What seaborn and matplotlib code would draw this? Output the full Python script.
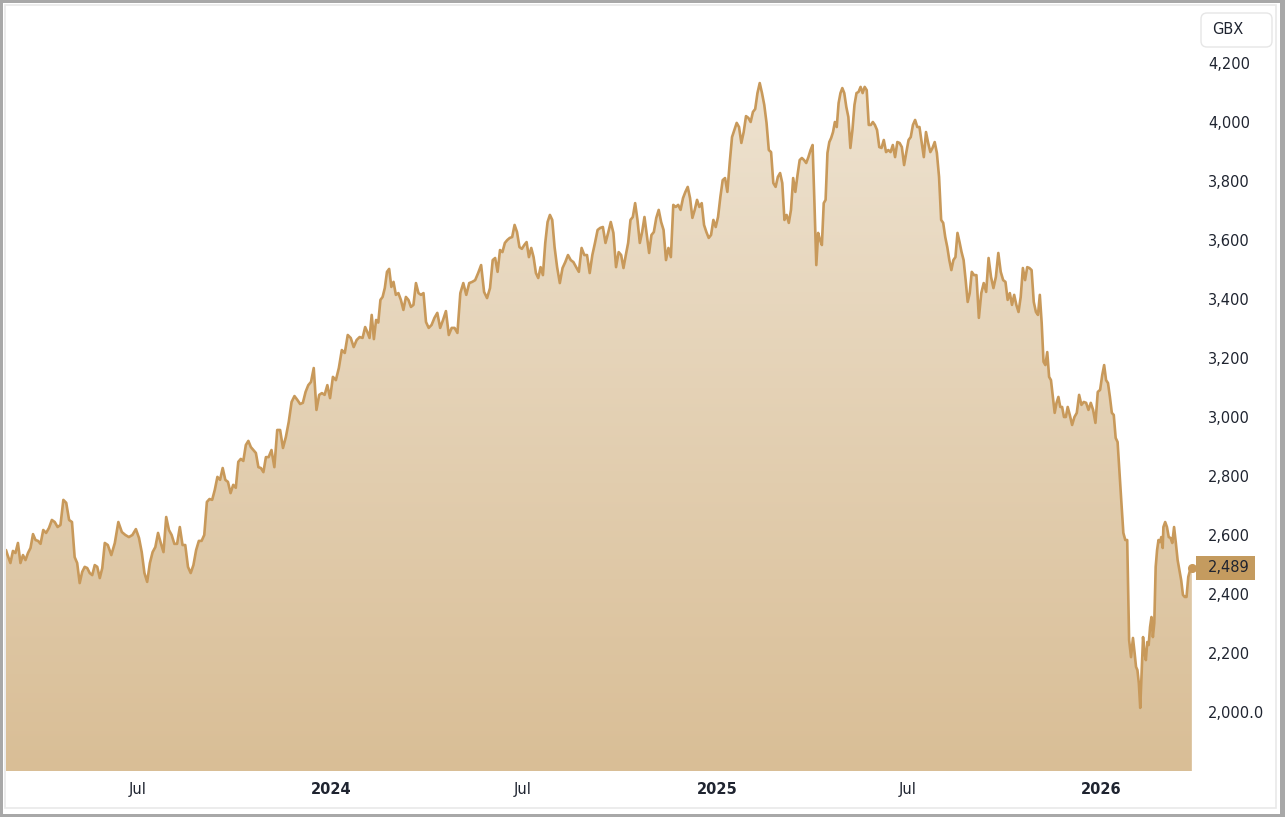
import numpy as np
import pandas as pd
import matplotlib
matplotlib.use("Agg")
import matplotlib.pyplot as plt
import matplotlib.dates as mdates
import matplotlib.transforms as mtransforms
from matplotlib.colors import LinearSegmentedColormap
from matplotlib.patches import Rectangle, FancyBboxPatch
import seaborn as sns

# 股价 (GBX)，按月读取，每个子列表是一个月内的收盘价
prices_2023 = [
    [2549, 2532],  # Feb (26日起)
    [2505, 2546, 2539, 2573, 2505, 2532, 2515, 2539, 2556, 2603, 2583, 2580, 2570],
    [2617, 2607, 2624, 2651, 2644, 2627, 2634, 2719, 2709, 2651, 2644],
    [2525, 2505, 2437, 2475, 2492, 2488, 2471, 2464, 2498, 2492, 2454, 2488, 2573],
    [2566, 2532, 2573, 2644, 2610, 2600, 2593, 2600, 2620],
    [2590, 2542, 2471, 2441, 2505, 2542, 2559, 2607, 2573, 2542, 2661, 2617],
    [2600, 2570, 2570, 2627, 2566, 2566, 2492, 2471, 2498, 2549, 2580, 2580],
    [2600, 2712, 2722, 2719, 2753, 2797, 2787, 2827, 2787, 2780, 2742, 2770],
    [2760, 2848, 2858, 2851, 2905, 2919, 2898, 2888, 2878, 2830, 2827, 2813, 2864],
    [2864, 2888, 2830, 2956, 2956, 2895, 2932, 2983, 3051, 3071, 3058],
    [3044, 3048, 3085, 3108, 3119, 3166, 3024, 3075, 3081, 3075, 3108, 3064],
]
prices_2024 = [
    [3136, 3125, 3166, 3227, 3217, 3278, 3268, 3237, 3261, 3271, 3268],
    [3305, 3288, 3268, 3346, 3264, 3329, 3320, 3397, 3407, 3437, 3492, 3502, 3441, 3458],
    [3414, 3420, 3397, 3363, 3407, 3397, 3373, 3380, 3454, 3420, 3414, 3420, 3322],
    [3302, 3312, 3336, 3353, 3302, 3329, 3359, 3278, 3302, 3302, 3285],
    [3420, 3454, 3414, 3454, 3458, 3464, 3488, 3515, 3424, 3403, 3437],
    [3532, 3539, 3492, 3566, 3559, 3590, 3600, 3607, 3610, 3651, 3627, 3576, 3570],
    [3583, 3593, 3542, 3573, 3542, 3488, 3471, 3508, 3481, 3590, 3661, 3685, 3668, 3576],
    [3508, 3454, 3505, 3525, 3549, 3532, 3525, 3508, 3492, 3573, 3549, 3549],
    [3488, 3549, 3590, 3634, 3641, 3644, 3590, 3624, 3661, 3624, 3508, 3559],
    [3549, 3505, 3549, 3590, 3668, 3678, 3725, 3668, 3590, 3627, 3678, 3617, 3556, 3617],
    [3627, 3675, 3702, 3661, 3634, 3532, 3573, 3542, 3719, 3712, 3719, 3702, 3742],
    [3763, 3780, 3742, 3675, 3702, 3736, 3712, 3725, 3651, 3627, 3607, 3617, 3668, 3644],
]
prices_2025 = [
    [3678, 3746, 3803, 3810, 3763, 3861, 3949, 3973, 3997, 3983, 3929, 3966, 4020, 4014],
    [4000, 4034, 4044, 4098, 4132, 4098, 4058, 3997, 3905, 3898, 3793, 3780, 3814],
    [3827, 3793, 3668, 3685, 3658, 3702, 3810, 3763, 3820, 3871, 3878, 3871, 3861, 3881, 3905],
    [3922, 3725, 3515, 3624, 3600, 3583, 3725, 3736, 3895, 3932, 3946, 3966, 4000, 3983,
     4064, 4098, 4115],
    [4098, 4051, 4017, 3912, 3973, 4058, 4098, 4102, 4119, 4098, 4119, 4108, 3990, 3990,
     4000, 3990],
    [3973, 3915, 3912, 3939, 3898, 3905, 3898, 3922, 3881, 3932, 3929, 3915, 3854, 3898],
    [3939, 3949, 3990, 4007, 3983, 3983, 3932, 3881, 3966, 3929, 3898, 3912, 3932, 3895, 3814],
    [3668, 3658, 3610, 3576, 3532, 3498, 3532, 3542, 3624, 3593, 3559, 3532, 3464, 3390,
     3420, 3492],
    [3481, 3481, 3336, 3420, 3454, 3424, 3539, 3475, 3437, 3475, 3556, 3492, 3464],
    [3458, 3397, 3420, 3380, 3414, 3380, 3356, 3407, 3505, 3464, 3508, 3505, 3498, 3390, 3356],
    [3346, 3414, 3319, 3187, 3176, 3220, 3136, 3125, 3068, 3014, 3048, 3068, 3034, 3034,
     3000, 3000, 3034],
    [3007, 2973, 3000, 3014, 3075, 3041, 3051, 3048, 3024, 3048, 3024, 2980, 3085, 3092],
]
prices_2026 = [
    [3142, 3176, 3125, 3115, 3068, 3014, 3007, 2929, 2915, 2810, 2708, 2607, 2583, 2583,
     2244, 2186, 2251],
    [2200, 2153, 2142, 2098, 2014, 2132, 2254, 2200, 2176, 2237, 2227, 2288, 2322, 2254,
     2302, 2492, 2549, 2583, 2576, 2593, 2556],
    [2627, 2644, 2627, 2593, 2590, 2573, 2627, 2573, 2515, 2481, 2447, 2397, 2390, 2390,
     2458, 2481, 2489],
]
first_day = "2023-02-26"
last_day = "2026-03-28"

xtick_dates = ["2023-07-01", "2024-01-01", "2024-07-01", "2025-01-01", "2025-07-01", "2026-01-01"]
xtick_labels = ["Jul", "2024", "Jul", "2025", "Jul", "2026"]
ytick_values = [2000, 2200, 2400, 2600, 2800, 3000, 3200, 3400, 3600, 3800, 4000, 4200]
ytick_labels = ["2,000.0", "2,200", "2,400", "2,600", "2,800", "3,000", "3,200",
                "3,400", "3,600", "3,800", "4,000", "4,200"]
currency = "GBX"

# 每月内的日期平均分布
months = prices_2023 + prices_2024 + prices_2025 + prices_2026
edges = ([pd.Timestamp(first_day)]
         + list(pd.date_range("2023-03-01", "2026-03-01", freq="MS"))
         + [pd.Timestamp(last_day)])
dates, prices = [], []
for i, vals in enumerate(months):
    a, b = edges[i], edges[i + 1]
    n = len(vals)
    if i == 0:
        frac = np.arange(n) / n
    elif i == len(months) - 1:
        frac = np.linspace(0, 1, n)
    else:
        frac = (np.arange(n) + 0.5) / n
    dates += [a + (b - a) * f for f in frac]
    prices += vals
df = pd.DataFrame({"date": dates, "price": prices})

LINE = "#C8995A"
TEXT = "#1f2430"
W, H = 1285, 817
Y_MIN, Y_MAX = 1800, 4400

sns.set_theme(style="white")
plt.rcParams["font.family"] = ["DejaVu Sans"]

fig = plt.figure(figsize=(W / 100, H / 100), dpi=100)
px = mtransforms.IdentityTransform()

# 外框
fig.add_artist(Rectangle((0, 0), W, H, transform=px, facecolor="#a8a8a8",
                         edgecolor="none", zorder=-20))
fig.add_artist(Rectangle((2.5, 3), W - 7.5, H - 5.5, transform=px, facecolor="white",
                         edgecolor="none", zorder=-19))
fig.add_artist(Rectangle((5, H - 808), 1271, 803, transform=px, facecolor="none",
                         edgecolor="#e9e9e9", linewidth=1.2, zorder=-18))

ax = fig.add_axes([6 / W, 46 / H, 1189 / W, 767 / H])
ax.set_facecolor("none")

# 渐变填充
poly = ax.fill_between(df["date"], df["price"], Y_MIN, facecolor="none", edgecolor="none")
cmap = LinearSegmentedColormap.from_list("fill", ["#D9BE96", "#F0E6D6"])
grad = np.linspace(0, 1, 256).reshape(-1, 1)
x0, x1 = mdates.date2num(df["date"].iloc[0]), mdates.date2num(df["date"].iloc[-1])
img = ax.imshow(grad, extent=[x0, x1, Y_MIN, Y_MAX], origin="lower", aspect="auto",
                cmap=cmap, zorder=1, interpolation="bilinear")
img.set_clip_path(poly.get_paths()[0], transform=ax.transData)

sns.lineplot(data=df, x="date", y="price", ax=ax, color=LINE, linewidth=1.9, zorder=3)
ax.plot(df["date"].iloc[-1], df["price"].iloc[-1], "o", color=LINE, ms=5.5, zorder=4)

ax.set_xlim(df["date"].iloc[0], pd.Timestamp(last_day) + pd.Timedelta(days=3))
ax.set_ylim(Y_MIN, Y_MAX)
for s in ax.spines.values():
    s.set_visible(False)
ax.set_xlabel("")
ax.set_ylabel("")

ax.set_xticks(pd.to_datetime(xtick_dates))
ax.set_xticklabels(xtick_labels)
for t in ax.get_xticklabels():
    t.set_fontsize(10.5)
    t.set_color(TEXT)
    if t.get_text() != "Jul":
        t.set_fontweight("bold")

ax.yaxis.tick_right()
ax.set_yticks(ytick_values)
ax.set_yticklabels(ytick_labels, fontsize=10.5, color=TEXT)
ax.tick_params(axis="x", length=0, pad=8)
ax.tick_params(axis="y", length=0, pad=9.5)
ax.grid(False)

# 最新价标签
blend = mtransforms.blended_transform_factory(ax.transAxes, ax.transData)
last_price = df["price"].iloc[-1]
ax.add_patch(Rectangle((1190 / 1189, last_price - 40), 59 / 1189, 80, transform=blend,
                       facecolor="#C49B5F", edgecolor="none", clip_on=False, zorder=5))
ax.text(1202 / 1189, last_price, f"{last_price:,}", transform=blend, ha="left",
        va="center", fontsize=10.5, color=TEXT, zorder=6, clip_on=False)

# 货币单位框
fig.add_artist(FancyBboxPatch((1201, H - 47), 71, 34, transform=px,
                              boxstyle="round,pad=0,rounding_size=6",
                              facecolor="white", edgecolor="#e6e6e6", linewidth=1))
fig.text(1228, H - 30, currency, transform=px, ha="center", va="center",
         fontsize=10.5, color=TEXT)

fig.savefig("out.png", dpi=100)
